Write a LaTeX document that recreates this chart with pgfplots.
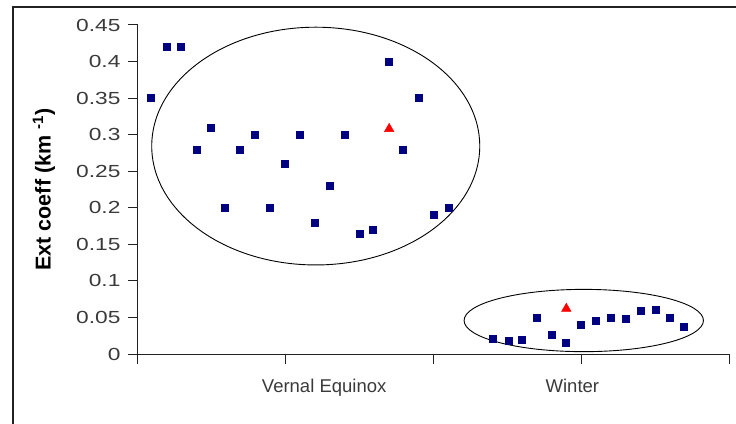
\documentclass[border=0pt]{standalone}
\usepackage{fontspec}
\setmainfont{Liberation Sans}
\newfontfamily\widefont[FakeStretch=1.3]{Liberation Sans}
\usepackage{pgfplots}
\pgfplotsset{compat=1.18}
\definecolor{navy}{HTML}{000080}
\definecolor{axisgray}{HTML}{222222}
\definecolor{labgray}{HTML}{3A3A3A}
\begin{document}
\begin{tikzpicture}
\useasboundingbox (-138pt,-69pt) rectangle (598pt,354pt);
\draw[line width=1.5pt, axisgray] (-125pt,-200pt) -- (-125pt,347pt) -- (800pt,347pt);
\begin{axis}[
  at={(0pt,0pt)}, anchor=south west,
  scale only axis, width=591pt, height=329pt,
  xmin=0, xmax=4, ymin=0, ymax=0.45,
  axis lines*=left,
  axis line style={line width=1pt, axisgray},
  xtick={0,1,2,3,4}, xticklabels={},
  ytick={0,0.05,0.1,0.15,0.2,0.25,0.3,0.35,0.4,0.45},
  tick align=outside, major tick length=10pt,
  tick style={line width=1pt, axisgray},
  /pgf/number format/assume math mode=true,
  yticklabel style={font=\widefont\fontsize{17.5}{17.5}\selectfont, text=labgray, /pgf/number format/fixed, /pgf/number format/precision=2, xshift=-4pt},
  extra x ticks={1.26,2.94},
  extra x tick labels={Vernal Equinox, Winter},
  extra x tick style={major tick length=0pt, xticklabel style={font=\fontsize{18.5}{18.5}\selectfont, text=labgray, yshift=-22pt}},
  ylabel={Ext coeff (km \textsuperscript{-1})},
  ylabel style={at={(axis description cs:-0.159,0.50)}, anchor=center, font=\bfseries\fontsize{21.5}{21.5}\selectfont},
  clip=false,
]
\addplot[only marks, mark=square*, mark size=3.5pt, color=navy] coordinates {
(0.088,0.35) (0.194,0.42) (0.291,0.42) (0.395,0.28) (0.494,0.31) (0.589,0.20)
(0.686,0.28) (0.790,0.30) (0.889,0.20) (0.990,0.26) (1.092,0.30) (1.193,0.18)
(1.295,0.23) (1.400,0.30) (1.498,0.165) (1.588,0.17) (1.694,0.40) (1.794,0.28)
(1.897,0.35) (1.999,0.19) (2.100,0.20)
};
\addplot[only marks, mark=square*, mark size=3.5pt, color=navy] coordinates {
(2.400,0.021) (2.506,0.018) (2.597,0.019) (2.698,0.050) (2.797,0.026) (2.897,0.015)
(2.996,0.040) (3.098,0.045) (3.199,0.050) (3.300,0.048) (3.402,0.059) (3.504,0.061)
(3.596,0.050) (3.695,0.037)
};
\addplot[only marks, mark=triangle*, mark size=5.5pt, color=red] coordinates {
(1.700,0.308) (2.899,0.062)
};
\draw[line width=0.9pt, black] (axis cs:1.203,0.2844) ellipse [x radius=1.11, y radius=0.1626];
\draw[line width=0.9pt, black] (axis cs:3.017,0.0458) ellipse [x radius=0.81, y radius=0.0426];
\end{axis}
\end{tikzpicture}
\end{document}
